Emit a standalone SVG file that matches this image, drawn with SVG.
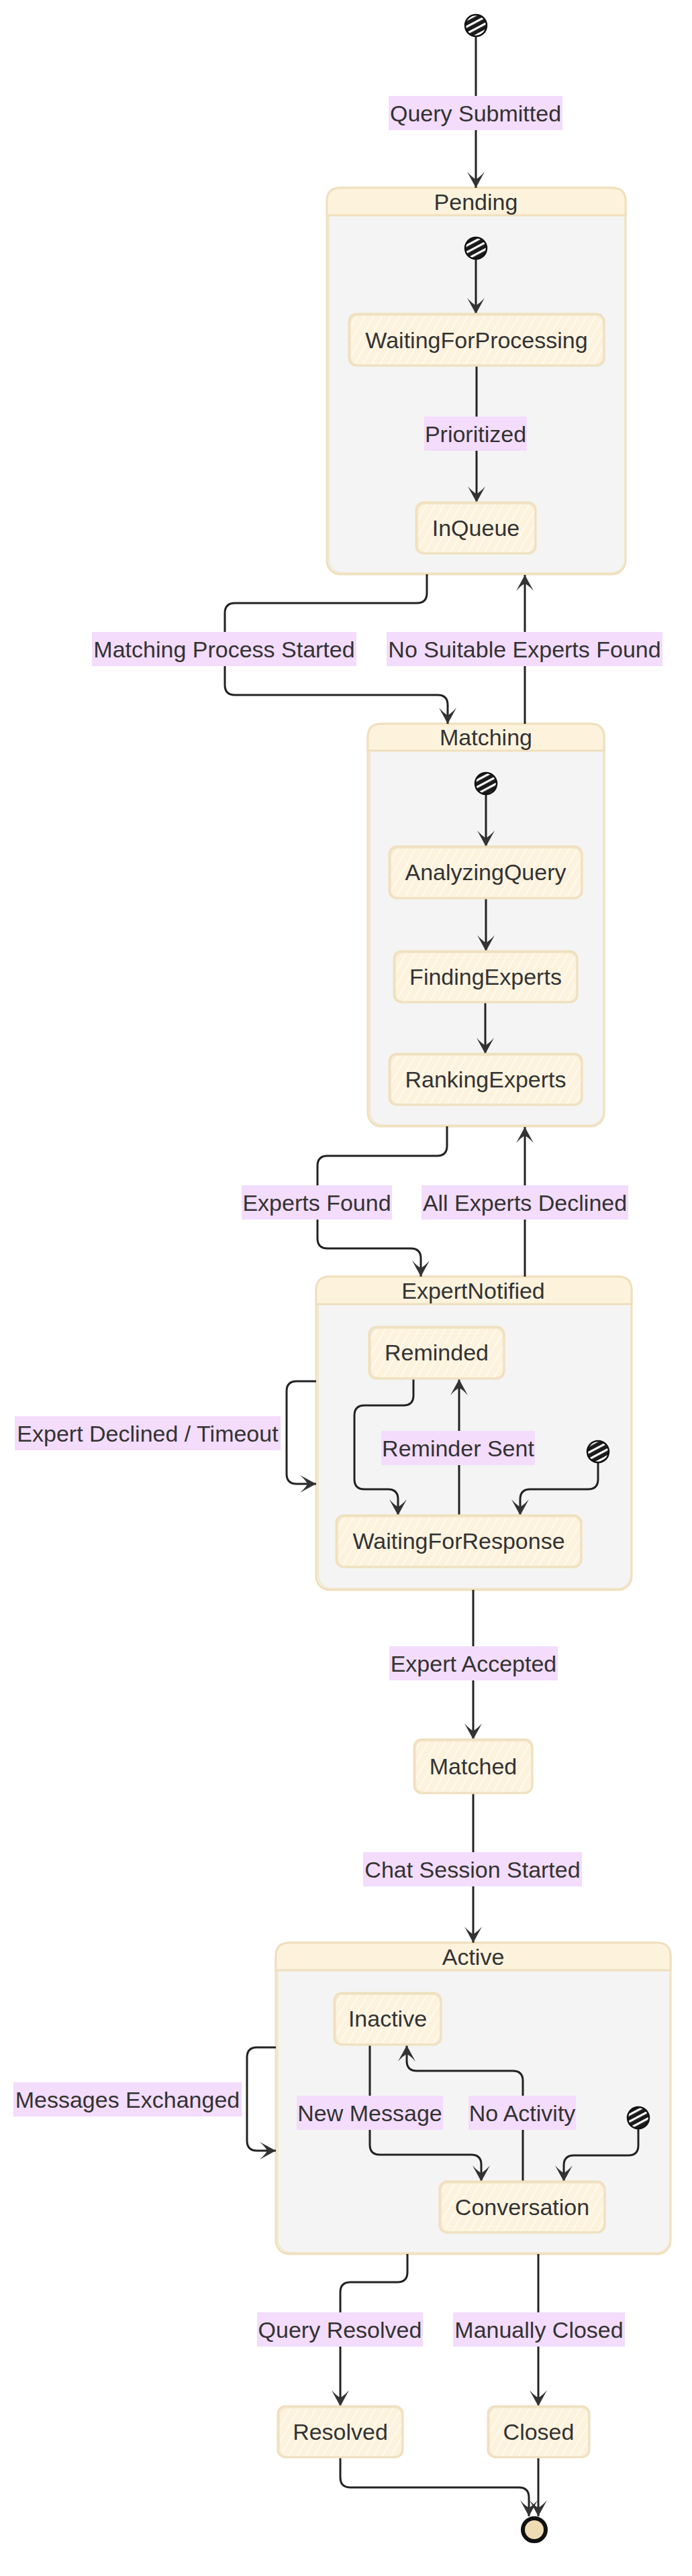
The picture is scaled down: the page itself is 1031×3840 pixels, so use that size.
<svg xmlns="http://www.w3.org/2000/svg" width="1031" height="3840" viewBox="0 0 1031 3840">
<defs>
  <pattern id="hatch" width="11" height="11" patternUnits="userSpaceOnUse" patternTransform="rotate(30)">
    <rect width="11" height="11" fill="#fdf2dc"/>
    <line x1="3" y1="0" x2="3" y2="11" stroke="#ffffff" stroke-width="1.4" stroke-opacity="0.85"/>
  </pattern>
  <pattern id="stripes" width="9" height="9" patternUnits="userSpaceOnUse" patternTransform="rotate(-28)">
    <rect width="9" height="9" fill="#1a1a1a"/>
    <rect y="0" width="9" height="3.2" fill="#ffffff"/>
  </pattern>
  <marker id="arr" markerUnits="userSpaceOnUse" markerWidth="30" markerHeight="30" viewBox="-26 -15 30 30" refX="0" refY="0" orient="auto">
    <path d="M0,0 L-24,-13 Q-15,-5 -13,0 Q-15,5 -24,13 Z" fill="#333333"/>
  </marker>
</defs>
<style>
  text { font-family: "Liberation Sans", Arial, Helvetica, sans-serif; font-size: 34px; fill: #333333; text-anchor: middle; }
  .comp { fill: #f4f4f4; stroke: #efdfbc; stroke-width: 3; }
  .comp2 { fill: none; stroke: #f1e3c6; stroke-width: 2; stroke-opacity: 0.8; }
  .head { fill: #fdf3dd; stroke: #efdfbc; stroke-width: 3; }
  .st { fill: url(#hatch); stroke: #efdfbc; stroke-width: 3; }
  .st2 { fill: none; stroke: #f0e2c4; stroke-width: 2; stroke-opacity: 0.8; }
  .init { fill: url(#stripes); stroke: #111111; stroke-width: 2.5; }
  .edge { fill: none; stroke: #222222; stroke-width: 3; marker-end: url(#arr); }
  .lbl { fill: #f3dcfc; }
</style>
<rect width="1031" height="3840" fill="#ffffff"/>

<!-- Composite states -->
<g id="Pending">
  <rect class="comp" x="487" y="280" width="445" height="576" rx="20"/>
  <rect class="comp2" x="490" y="283" width="441" height="571" rx="20"/>
  <path class="head" d="M487,321 V300 Q487,280 507,280 H912 Q932,280 932,300 V321 Z"/>
  <text x="709" y="313">Pending</text>
</g>
<g id="Matching">
  <rect class="comp" x="548" y="1079" width="352" height="600" rx="20"/>
  <rect class="comp2" x="551" y="1082" width="348" height="595" rx="20"/>
  <path class="head" d="M548,1119 V1099 Q548,1079 568,1079 H880 Q900,1079 900,1099 V1119 Z"/>
  <text x="724" y="1111">Matching</text>
</g>
<g id="ExpertNotified">
  <rect class="comp" x="471" y="1903" width="470" height="467" rx="20"/>
  <rect class="comp2" x="474" y="1906" width="466" height="462" rx="20"/>
  <path class="head" d="M471,1944 V1923 Q471,1903 491,1903 H921 Q941,1903 941,1923 V1944 Z"/>
  <text x="705" y="1936">ExpertNotified</text>
</g>
<g id="Active">
  <rect class="comp" x="411" y="2896" width="588" height="464" rx="20"/>
  <rect class="comp2" x="414" y="2899" width="584" height="459" rx="20"/>
  <path class="head" d="M411,2937 V2916 Q411,2896 431,2896 H979 Q999,2896 999,2916 V2937 Z"/>
  <text x="705" y="2929">Active</text>
</g>

<!-- Connectors -->
<g id="connectors">
  <path class="edge" d="M709,54 V280"/>
  <path class="edge" d="M709,386 V468"/>
  <path class="edge" d="M710,545 V749"/>
  <path class="edge" d="M636,856 V884 Q636,899 621,899 H350 Q335,899 335,914 V1021 Q335,1036 350,1036 H652 Q667,1036 667,1051 V1079"/>
  <path class="edge" d="M782,1079 V857"/>
  <path class="edge" d="M724,1184 V1262"/>
  <path class="edge" d="M724,1339 V1418"/>
  <path class="edge" d="M723,1494 V1571"/>
  <path class="edge" d="M666,1679 V1708 Q666,1723 651,1723 H488 Q473,1723 473,1738 V1846 Q473,1861 488,1861 H612 Q627,1861 627,1876 V1903"/>
  <path class="edge" d="M782,1903 V1680"/>
  <path class="edge" d="M471,2059 H442 Q427,2059 427,2074 V2197 Q427,2212 442,2212 H471"/>
  <path class="edge" d="M616,2055 V2080 Q616,2095 601,2095 H543 Q528,2095 528,2110 V2205 Q528,2220 543,2220 H578 Q593,2220 593,2235 V2259"/>
  <path class="edge" d="M684,2259 V2056"/>
  <path class="edge" d="M891,2180 V2205 Q891,2220 876,2220 H790 Q775,2220 775,2235 V2259"/>
  <path class="edge" d="M705,2370 V2593"/>
  <path class="edge" d="M705,2673 V2896"/>
  <path class="edge" d="M411,3052 H383 Q368,3052 368,3067 V3191 Q368,3206 383,3206 H411"/>
  <path class="edge" d="M551,3048 V3197 Q551,3212 566,3212 H702 Q717,3212 717,3227 V3252"/>
  <path class="edge" d="M779,3252 V3102 Q779,3087 764,3087 H621 Q606,3087 606,3072 V3049"/>
  <path class="edge" d="M951,3173 V3198 Q951,3213 936,3213 H855 Q840,3213 840,3228 V3252"/>
  <path class="edge" d="M607,3360 V3387 Q607,3402 592,3402 H522 Q507,3402 507,3417 V3587"/>
  <path class="edge" d="M802,3360 V3587"/>
  <path class="edge" d="M507,3663 V3693 Q507,3708 522,3708 H773 Q788,3708 788,3723 V3751"/>
  <path class="edge" d="M802,3663 V3751"/>

  <g id="edge-labels">
    <rect class="lbl" x="579" y="143" width="259" height="51"/><text x="708.5" y="180.5">Query Submitted</text>
    <rect class="lbl" x="632" y="621" width="153" height="51"/><text x="708.5" y="658.5">Prioritized</text>
    <rect class="lbl" x="137" y="942" width="394" height="51"/><text x="334" y="979.5">Matching Process Started</text>
    <rect class="lbl" x="576" y="942" width="411" height="51"/><text x="781.5" y="979.5">No Suitable Experts Found</text>
    <rect class="lbl" x="360" y="1767" width="224" height="51"/><text x="472" y="1804.5">Experts Found</text>
    <rect class="lbl" x="628" y="1767" width="308" height="51"/><text x="782" y="1804.5">All Experts Declined</text>
    <rect class="lbl" x="22" y="2111" width="396" height="51"/><text x="220" y="2148.5">Expert Declined / Timeout</text>
    <rect class="lbl" x="568" y="2133" width="229" height="51"/><text x="682.5" y="2170.5">Reminder Sent</text>
    <rect class="lbl" x="580" y="2454" width="251" height="51"/><text x="705.5" y="2491.5">Expert Accepted</text>
    <rect class="lbl" x="541" y="2761" width="326" height="51"/><text x="704" y="2798.5">Chat Session Started</text>
    <rect class="lbl" x="20" y="3104" width="340" height="51"/><text x="190" y="3141.5">Messages Exchanged</text>
    <rect class="lbl" x="442" y="3124" width="218" height="51"/><text x="551" y="3161.5">New Message</text>
    <rect class="lbl" x="698" y="3124" width="160" height="51"/><text x="778" y="3161.5">No Activity</text>
    <rect class="lbl" x="383" y="3447" width="247" height="51"/><text x="506.5" y="3484.5">Query Resolved</text>
    <rect class="lbl" x="675" y="3447" width="256" height="51"/><text x="803" y="3484.5">Manually Closed</text>
  </g>
</g>

<!-- Start / end states -->
<g id="start"><circle class="init" cx="709" cy="38" r="16"/></g>
<g id="Pending_start"><circle class="init" cx="709" cy="370" r="16"/></g>
<g id="Matching_start"><circle class="init" cx="724" cy="1168" r="16"/></g>
<g id="ExpertNotified_start"><circle class="init" cx="891" cy="2164" r="16"/></g>
<g id="Active_start"><circle class="init" cx="951" cy="3157" r="16"/></g>
<g id="end">
  <circle cx="796" cy="3771" r="17" fill="#efdcb5" stroke="#111111" stroke-width="6"/>
</g>

<!-- Simple states -->
<g id="WaitingForProcessing">
  <rect class="st" x="520" y="468" width="380" height="77" rx="11"/>
  <rect class="st2" x="522" y="470" width="377" height="74" rx="11"/>
  <text x="710" y="518.5">WaitingForProcessing</text>
</g>
<g id="InQueue">
  <rect class="st" x="620" y="749" width="178" height="76" rx="11"/>
  <rect class="st2" x="622" y="751" width="175" height="73" rx="11"/>
  <text x="709" y="799">InQueue</text>
</g>
<g id="AnalyzingQuery">
  <rect class="st" x="580" y="1262" width="287" height="77" rx="11"/>
  <rect class="st2" x="582" y="1264" width="284" height="74" rx="11"/>
  <text x="723.5" y="1312">AnalyzingQuery</text>
</g>
<g id="FindingExperts">
  <rect class="st" x="587" y="1418" width="273" height="76" rx="11"/>
  <rect class="st2" x="589" y="1420" width="270" height="73" rx="11"/>
  <text x="723.5" y="1468">FindingExperts</text>
</g>
<g id="RankingExperts">
  <rect class="st" x="580" y="1571" width="287" height="76" rx="11"/>
  <rect class="st2" x="582" y="1573" width="284" height="73" rx="11"/>
  <text x="723.5" y="1621">RankingExperts</text>
</g>
<g id="Reminded">
  <rect class="st" x="550" y="1978" width="201" height="77" rx="11"/>
  <rect class="st2" x="552" y="1980" width="198" height="74" rx="11"/>
  <text x="650.5" y="2028">Reminded</text>
</g>
<g id="WaitingForResponse">
  <rect class="st" x="501" y="2259" width="365" height="77" rx="11"/>
  <rect class="st2" x="503" y="2261" width="362" height="74" rx="11"/>
  <text x="683.5" y="2309">WaitingForResponse</text>
</g>
<g id="Matched">
  <rect class="st" x="617" y="2593" width="176" height="80" rx="11"/>
  <rect class="st2" x="619" y="2595" width="173" height="77" rx="11"/>
  <text x="705" y="2645">Matched</text>
</g>
<g id="Inactive">
  <rect class="st" x="498" y="2971" width="159" height="77" rx="11"/>
  <rect class="st2" x="500" y="2973" width="156" height="74" rx="11"/>
  <text x="577.5" y="3021">Inactive</text>
</g>
<g id="Conversation">
  <rect class="st" x="655" y="3252" width="246" height="76" rx="11"/>
  <rect class="st2" x="657" y="3254" width="243" height="73" rx="11"/>
  <text x="778" y="3302">Conversation</text>
</g>
<g id="Resolved">
  <rect class="st" x="414" y="3587" width="186" height="76" rx="11"/>
  <rect class="st2" x="416" y="3589" width="183" height="73" rx="11"/>
  <text x="507" y="3637">Resolved</text>
</g>
<g id="Closed">
  <rect class="st" x="727" y="3587" width="151" height="76" rx="11"/>
  <rect class="st2" x="729" y="3589" width="148" height="73" rx="11"/>
  <text x="802.5" y="3637">Closed</text>
</g>
</svg>
